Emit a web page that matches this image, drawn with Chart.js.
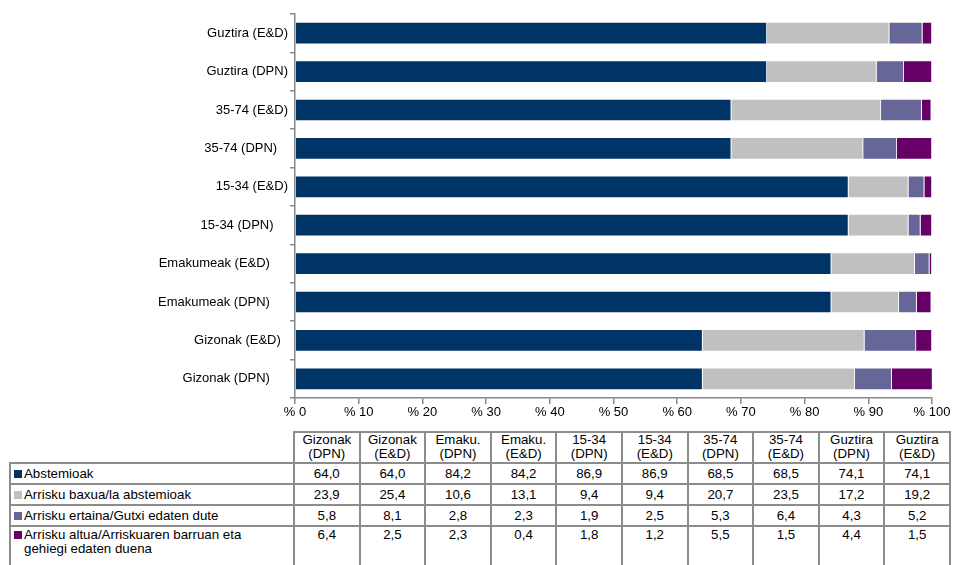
<!DOCTYPE html>
<html><head><meta charset="utf-8">
<script src="https://cdn.jsdelivr.net/npm/chart.js@4/dist/chart.umd.min.js"></script>
<style>
body{margin:0;background:#fff;font-family:"Liberation Sans",Arial,sans-serif;}
#wrap{position:relative;width:954px;height:565px;overflow:hidden;}
#c{position:absolute;left:0;top:0;}
table{position:absolute;left:9px;top:431px;border-collapse:collapse;font-size:13.3px;table-layout:fixed;color:#000;}
td{border:2px solid #8c8c8c;padding:0 2px;line-height:14px;}
td.num{text-align:center;vertical-align:middle;}
tr.hdr td{text-align:center;height:27px;vertical-align:bottom;padding-bottom:1px;}
tr.hdr td.blank{border-top:none;border-left:none;}
tr.row td{height:19px;}
tr.last td{height:44px;vertical-align:top;padding-top:1px;}
td.lab{padding-left:3px;white-space:nowrap;}
td.lab .sw{display:inline-block;width:8px;height:8px;margin-right:2px;vertical-align:0px;}
td.lab .tx{display:inline-block;white-space:normal;vertical-align:top;width:240px;}
</style>
</head><body>
<div id="wrap">
<canvas id="c" width="954" height="425"></canvas>
<table id="tbl"></table>
</div>
<script>
// category labels as in the source (some carry trailing spaces)
const categories = ["Gizonak (DPN)     ","Gizonak (E&D)  ","Emakumeak (DPN)     ","Emakumeak (E&D)     ","15-34 (DPN)    ","15-34 (E&D)","35-74 (DPN)   ","35-74 (E&D)","Guztira (DPN)","Guztira (E&D)"];
const tableHeaders = [["Gizonak","(DPN)"],["Gizonak","(E&D)"],["Emaku.","(DPN)"],["Emaku.","(E&D)"],["15-34","(DPN)"],["15-34","(E&D)"],["35-74","(DPN)"],["35-74","(E&D)"],["Guztira","(DPN)"],["Guztira","(E&D)"]];
const seriesNames = ["Abstemioak","Arrisku baxua/la abstemioak","Arrisku ertaina/Gutxi edaten dute","Arrisku altua/Arriskuaren barruan eta gehiegi edaten duena"];
const abstemioak = [64.0,64.0,84.2,84.2,86.9,86.9,68.5,68.5,74.1,74.1];
const baxua = [23.9,25.4,10.6,13.1,9.4,9.4,20.7,23.5,17.2,19.2];
const ertaina = [5.8,8.1,2.8,2.3,1.9,2.5,5.3,6.4,4.3,5.2];
const altua = [6.4,2.5,2.3,0.4,1.8,1.2,5.5,1.5,4.4,1.5];
const xTicks = [0,10,20,30,40,50,60,70,80,90,100];
const colors = ["#003366","#C0C0C0","#666699","#660066"];
const seriesValues = [abstemioak, baxua, ertaina, altua];

const font = {family:"'Liberation Sans', Arial, sans-serif", size:13};
new Chart(document.getElementById('c'), {
  type:'bar',
  data:{
    labels: categories,
    datasets: seriesValues.map((v,i)=>({
      label: seriesNames[i], data: v, backgroundColor: colors[i],
      borderColor:'rgba(255,255,255,0.35)', borderWidth:0.8,
      barPercentage:0.58, categoryPercentage:1
    }))
  },
  options:{
    indexAxis:'y', responsive:false, animation:false,
    layout:{padding:{top:14,right:22,left:0,bottom:0}},
    plugins:{legend:{display:false},tooltip:{enabled:false}},
    scales:{
      x:{stacked:true,min:0,max:100,
        afterBuildTicks:(s)=>{s.ticks = xTicks.map(v=>({value:v}));},
        afterFit:(s)=>{s.height=27;},
        grid:{drawOnChartArea:false,drawTicks:true,tickLength:6,color:'#888',lineWidth:1.5},
        border:{color:'#888',width:1.5},
        ticks:{color:'#000',font:font,padding:1,maxRotation:0,autoSkip:false,callback:(v)=>'% '+v}
      },
      y:{stacked:true,reverse:true,
        afterFit:(s)=>{s.width=295;},
        grid:{offset:true,drawOnChartArea:false,tickLength:5,color:'#888',lineWidth:1.5},
        border:{color:'#888',width:1.5},
        ticks:{color:'#000',font:font,padding:2}
      }
    }
  }
});

// data table
const fmt = v => v.toFixed(1).replace('.',',');
const tbl = document.getElementById('tbl');
let html = '<colgroup><col style="width:284px">' + tableHeaders.map(()=> '<col style="width:65.6px">').join('') + '</colgroup>';
html += '<tr class="hdr"><td class="blank"></td>' + tableHeaders.map(h=>'<td>'+h[0]+'<br>'+h[1]+'</td>').join('') + '</tr>';
seriesValues.forEach((vals,i)=>{
  const cls = i===seriesValues.length-1 ? 'last' : 'row';
  html += '<tr class="'+cls+'"><td class="lab"><span class="sw" style="background:'+colors[i]+'"></span><span class="tx">'+seriesNames[i]+'</span></td>' +
    vals.map(v=>'<td class="num">'+fmt(v)+'</td>').join('') + '</tr>';
});
tbl.innerHTML = html.replace(/&(?!amp;)/g,'&amp;').replace(/&amp;(?=[a-z]+;)/g,'&');
</script>
</body></html>
